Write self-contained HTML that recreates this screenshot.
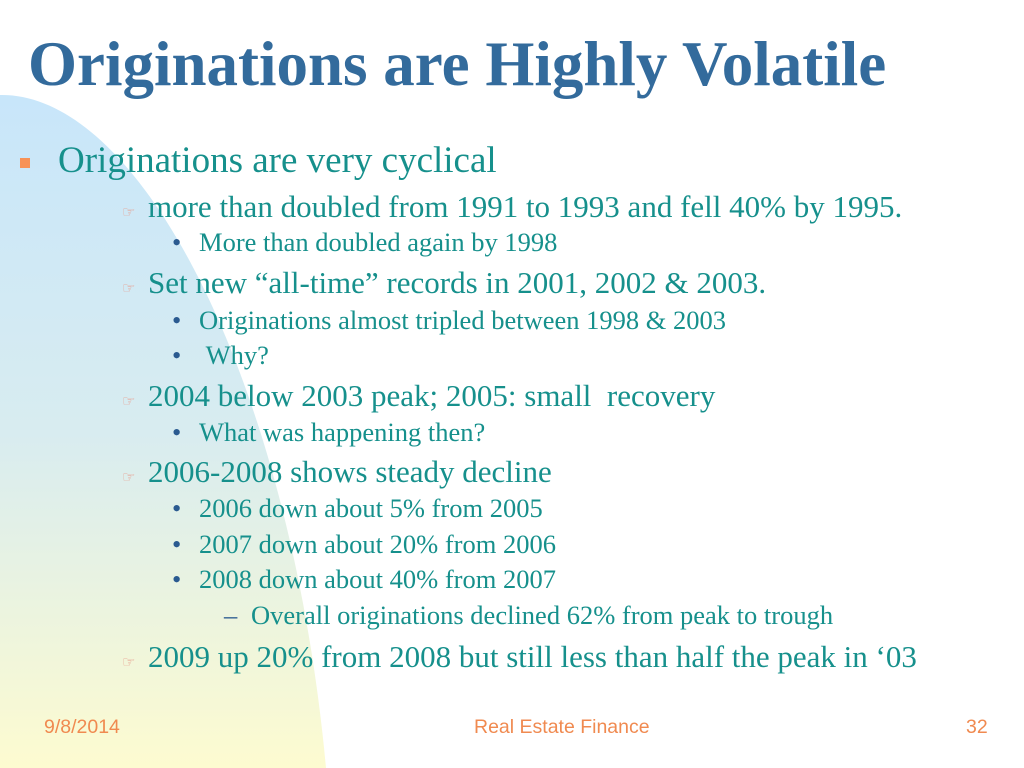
<!DOCTYPE html>
<html><head><meta charset="utf-8"><style>
body{margin:0;width:1024px;height:768px;overflow:hidden;background:#fff;position:relative;font-family:"Liberation Serif",serif}
.t{position:absolute;white-space:nowrap;color:#16908c;line-height:1.2}
.h{color:#e8a090;font-size:15px;display:inline-block;width:26px}
.b{color:#2a5a90;display:inline-block;width:27px}
.l2{font-size:31px;left:122px}
.l3{font-size:26.5px;left:172px}
</style></head><body>
<svg width="1024" height="768" style="position:absolute;left:0;top:0">
<defs><linearGradient id="g" x1="0" y1="0" x2="0" y2="1"><stop offset="0" stop-color="#c8e6fa"/><stop offset="0.5" stop-color="#d8ecf0"/><stop offset="1" stop-color="#fdfbd0"/></linearGradient></defs>
<path d="M0,95 C140,92 290,380 326,768 L0,768 Z" fill="url(#g)"/>
</svg>
<div class="t" style="left:28px;top:27px;font-size:63px;font-weight:bold;color:#336b9c;line-height:1.2">Originations are Highly Volatile</div>
<div style="position:absolute;left:20px;top:158px;width:10px;height:10px;background:#f79257"></div>
<div class="t" style="left:58px;top:139px;font-size:37px">Originations are very cyclical</div>
<div class="t l2" style="top:188px"><span class="h">☞</span>more than doubled from 1991 to 1993 and fell 40% by 1995.</div>
<div class="t l3" style="top:227px"><span class="b">•</span>More than doubled again by 1998</div>
<div class="t l2" style="top:264px"><span class="h">☞</span>Set new “all-time” records in 2001, 2002 &amp; 2003.</div>
<div class="t l3" style="top:305px"><span class="b">•</span>Originations almost tripled between 1998 &amp; 2003</div>
<div class="t l3" style="top:340px"><span class="b">•</span>&nbsp;Why?</div>
<div class="t l2" style="top:377px"><span class="h">☞</span>2004 below 2003 peak; 2005: small&nbsp; recovery</div>
<div class="t l3" style="top:417px"><span class="b">•</span>What was happening then?</div>
<div class="t l2" style="top:453px"><span class="h">☞</span>2006-2008 shows steady decline</div>
<div class="t l3" style="top:493px"><span class="b">•</span>2006 down about 5% from 2005</div>
<div class="t l3" style="top:529px"><span class="b">•</span>2007 down about 20% from 2006</div>
<div class="t l3" style="top:564px"><span class="b">•</span>2008 down about 40% from 2007</div>
<div class="t l3" style="left:224px;top:600px"><span class="b">–</span>Overall originations declined 62% from peak to trough</div>
<div class="t l2" style="top:638px"><span class="h">☞</span>2009 up 20% from 2008 but still less than half the peak in ‘03</div>
<div class="t" style="left:44px;top:716px;font-size:19.5px;font-family:'Liberation Sans',sans-serif;color:#f08a50">9/8/2014</div>
<div class="t" style="left:474px;top:716px;font-size:19.5px;font-family:'Liberation Sans',sans-serif;color:#f08a50">Real Estate Finance</div>
<div class="t" style="left:966px;top:716px;font-size:19.5px;font-family:'Liberation Sans',sans-serif;color:#f08a50">32</div>
</body></html>
